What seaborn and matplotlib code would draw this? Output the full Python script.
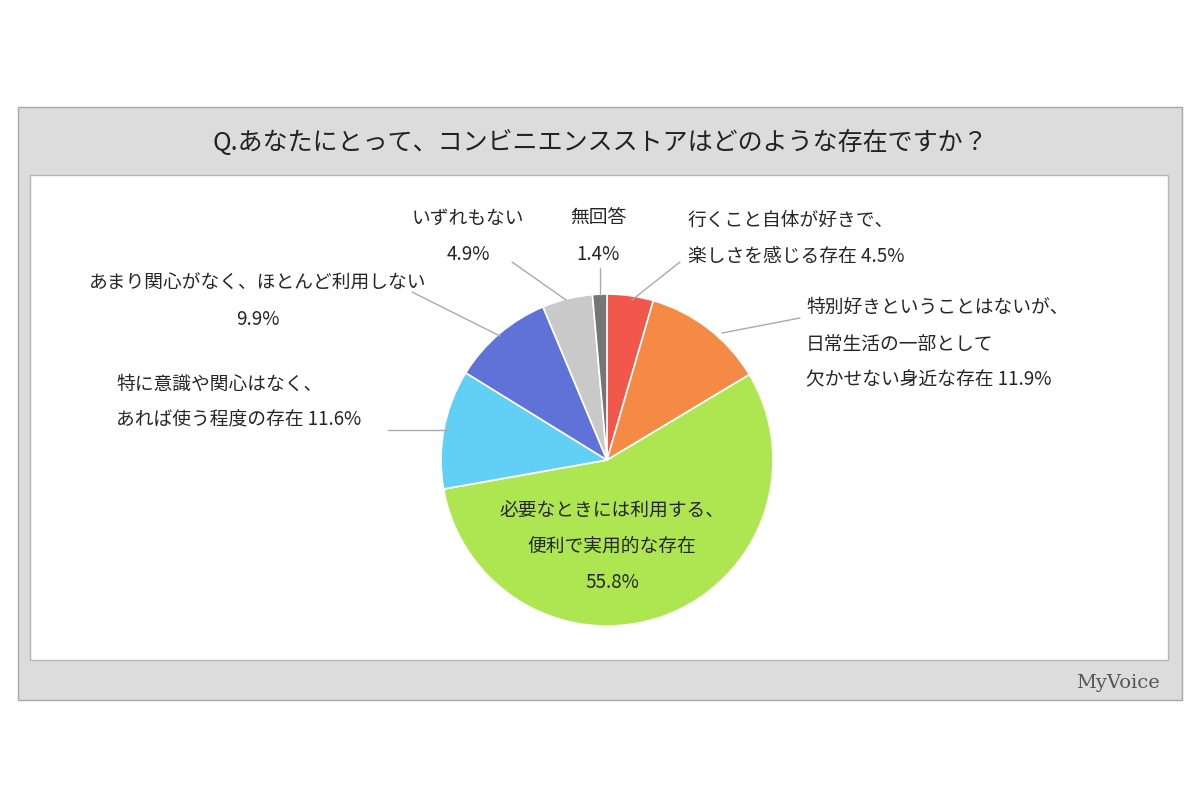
import matplotlib.pyplot as plt
import matplotlib.patches as mpatches
import seaborn as sns

sns.set_theme(style="white")
plt.rcParams['font.family'] = ['Noto Sans CJK JP', 'DejaVu Sans']

labels = ['行くこと自体が好きで、\n楽しさを感じる存在 4.5%',
          '特別好きということはないが、\n日常生活の一部として\n欠かせない身近な存在 11.9%',
          '必要なときには利用する、\n便利で実用的な存在\n55.8%',
          '特に意識や関心はなく、\nあれば使う程度の存在 11.6%',
          'あまり関心がなく、ほとんど利用しない\n9.9%',
          'いずれもない\n4.9%',
          '無回答\n1.4%']
values = [4.5, 11.9, 55.8, 11.6, 9.9, 4.9, 1.4]
colors = ['#f2574c', '#f58a45', '#aee652', '#62cff5', '#5f72d8', '#c9c9c9', '#757575']

H = 799
fig = plt.figure(figsize=(12, 7.99), dpi=100)
ax = fig.add_axes([0, 0, 1, 1])

# frames
ax.add_patch(mpatches.Rectangle((18, H - 700), 1164, 593, facecolor='#dcdcdc', edgecolor='#a8a8a8', lw=1))
ax.add_patch(mpatches.Rectangle((30, H - 660), 1138, 485, facecolor='white', edgecolor='#b5b5b5', lw=1))
ax.text(600, H - 143, 'Q.あなたにとって、コンビニエンスストアはどのような存在ですか？',
        ha='center', va='center', fontsize=18, color='#222222')
ax.text(1118, H - 683, 'MyVoice', ha='center', va='center', fontsize=14,
        family='DejaVu Serif', color='#555555')

ax.pie(values, colors=colors, startangle=90, counterclock=False,
       center=(607, H - 460), radius=166,
       wedgeprops=dict(edgecolor='white', linewidth=1.2), frame=True)
ax.set_xlim(0, 1200)
ax.set_ylim(0, H)
ax.set_aspect('auto')
ax.axis('off')

fs = 13.5
ls = 1.95
lc = '#aaaaaa'
ax.text(688, H - 238, labels[0], ha='left', va='center', fontsize=fs, linespacing=ls)
ax.plot([632, 680], [H - 300, H - 262], color=lc, lw=1)
ax.text(806, H - 344, labels[1], ha='left', va='center', fontsize=fs, linespacing=ls)
ax.plot([722, 800], [H - 333, H - 318], color=lc, lw=1)
ax.text(612, H - 546, labels[2], ha='center', va='center', fontsize=fs, linespacing=ls)
ax.text(116, H - 402, labels[3], ha='left', va='center', fontsize=fs, linespacing=ls)
ax.plot([388, 448], [H - 430, H - 430], color=lc, lw=1)
ax.text(258, H - 301, labels[4], ha='center', va='center', fontsize=fs, linespacing=ls)
ax.plot([412, 500], [H - 292, H - 336], color=lc, lw=1)
ax.text(468, H - 236, labels[5], ha='center', va='center', fontsize=fs, linespacing=ls)
ax.plot([512, 566], [H - 262, H - 300], color=lc, lw=1)
ax.text(598, H - 236, labels[6], ha='center', va='center', fontsize=fs, linespacing=ls)
ax.plot([600, 600], [H - 268, H - 295], color=lc, lw=1)

fig.savefig('out.png', dpi=100, facecolor='white')
